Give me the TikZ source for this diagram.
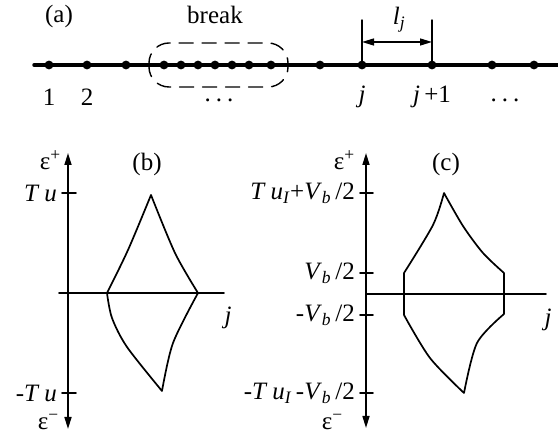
\documentclass[tikz,border=0pt]{standalone}
\usepackage{fontspec}
\setmainfont{Liberation Serif}
\usetikzlibrary{arrows.meta}
\newcommand{\vi}[1]{\textit{#1}}
\newcommand{\sub}[1]{\textsubscript{\textit{#1}}}
\newcommand{\ddd}{.\kern5pt.\kern5pt.}
\begin{document}
\begin{tikzpicture}[x=1pt,y=-1pt,>={Stealth[length=12pt,width=7pt,inset=0pt]},line join=round,line cap=round,
	font=\fontsize{25}{28}\selectfont,
	axis/.style={line width=1.6pt},
	curve/.style={line width=1.7pt},
	lbl/.style={inner sep=1pt,anchor=east}]
	\useasboundingbox (0,0) rectangle (558,435);
	% (a) chain of sites
	\draw[line width=3.5pt] (34,65) coordinate (chainL) -- (558,65) coordinate (chainR);
	\foreach \x in {49,87,126,164,181,198,215,232,249,271,320,362,432,492,534}
		\fill (\x,65) circle (4.4);
	\coordinate (sj) at (362,65);
	\coordinate (sjj) at (432,65);
	\draw[line width=1.4pt] (sj)--++(0,-45) (sjj)--++(0,-45);
	\draw[<->,line width=1.4pt] ([yshift=23pt]sj)--([yshift=23pt]sjj);
	\draw[dash pattern=on 14pt off 9pt,line width=1.4pt,rounded corners=20pt] (149,43) rectangle (288,87);
	\node (tA) at (59,16) {(a)};
	\node (tBreak) at (215,15) {break};
	\node (tL) at (399,20) {\vi{l}\sub{j}};
	\node (t1) at (49,97) {1};
	\node (t2) at (87,97) {2};
	\node[anchor=base] (tdotsA) at (219,102) {\ddd};
	\node (tj) at (362,97) {\vi{j}};
	\node (tjj) at (432,97) {\vi{j}\,+1};
	\node[anchor=base] (tdotsB) at (505,102) {\ddd};
	% (b)
	\draw[<->,axis] (68,153)--(68,429);
	\draw[axis] (59,293)--(224,293);
	\draw[axis] (62,193)--(76,193) (62,393)--(76,393);
	\node[lbl] (bEp) at (62,160) {ε\textsuperscript{+}};
	\node[lbl] (bEm) at (60,422) {ε\textsuperscript{−}};
	\node[lbl] (bTu) at (58,193) {\vi{T u}};
	\node[lbl] (bmTu) at (58,393) {-\vi{T u}};
	\node (tB) at (147,164) {(b)};
	\node (bj) at (228,318) {\vi{j}};
	\draw[curve] plot[smooth,tension=0.5] coordinates {(107,293) (128,250) (151,195)}
		plot[smooth,tension=0.5] coordinates {(151,195) (175,253) (198,293)}
		plot[smooth,tension=0.5] coordinates {(198,293) (173,343) (162,391)}
		plot[smooth,tension=0.5] coordinates {(107,293) (112,318) (127,347) (162,391)};
	% (c)
	\draw[<->,axis] (366,153)--(366,428);
	\draw[axis] (366,294)--(546,294);
	\draw[axis] (360,193)--(373,193) (360,273)--(373,273) (360,315)--(373,315) (360,393)--(373,393);
	\node[lbl] (cEp) at (356,160) {ε\textsuperscript{+}};
	\node[lbl] (cEm) at (344,422) {ε\textsuperscript{−}};
	\node[lbl] (cTop) at (356,193) {\vi{T u}\sub{I}+\vi{V}\sub{b}\,/2};
	\node[lbl] (cVp) at (356,273) {\vi{V}\sub{b}\,/2};
	\node[lbl] (cVm) at (356,315) {-\vi{V}\sub{b}\,/2};
	\node[lbl] (cBot) at (356,393) {-\vi{T u}\sub{I}\,-\vi{V}\sub{b}\,/2};
	\node (tC) at (446,164) {(c)};
	\node (cj) at (548,320) {\vi{j}};
	\draw[curve] (404,315)--(404,273)
		plot[smooth,tension=0.5] coordinates {(404,273) (433,225) (444,193)}
		plot[smooth,tension=0.5] coordinates {(444,193) (463,226) (483,253) (504,273)}
		(504,273)--(504,314)
		plot[smooth,tension=0.5] coordinates {(504,314) (477,343) (464,393)}
		plot[smooth,tension=0.5] coordinates {(404,315) (430,358) (464,393)};
\end{tikzpicture}
\end{document}
